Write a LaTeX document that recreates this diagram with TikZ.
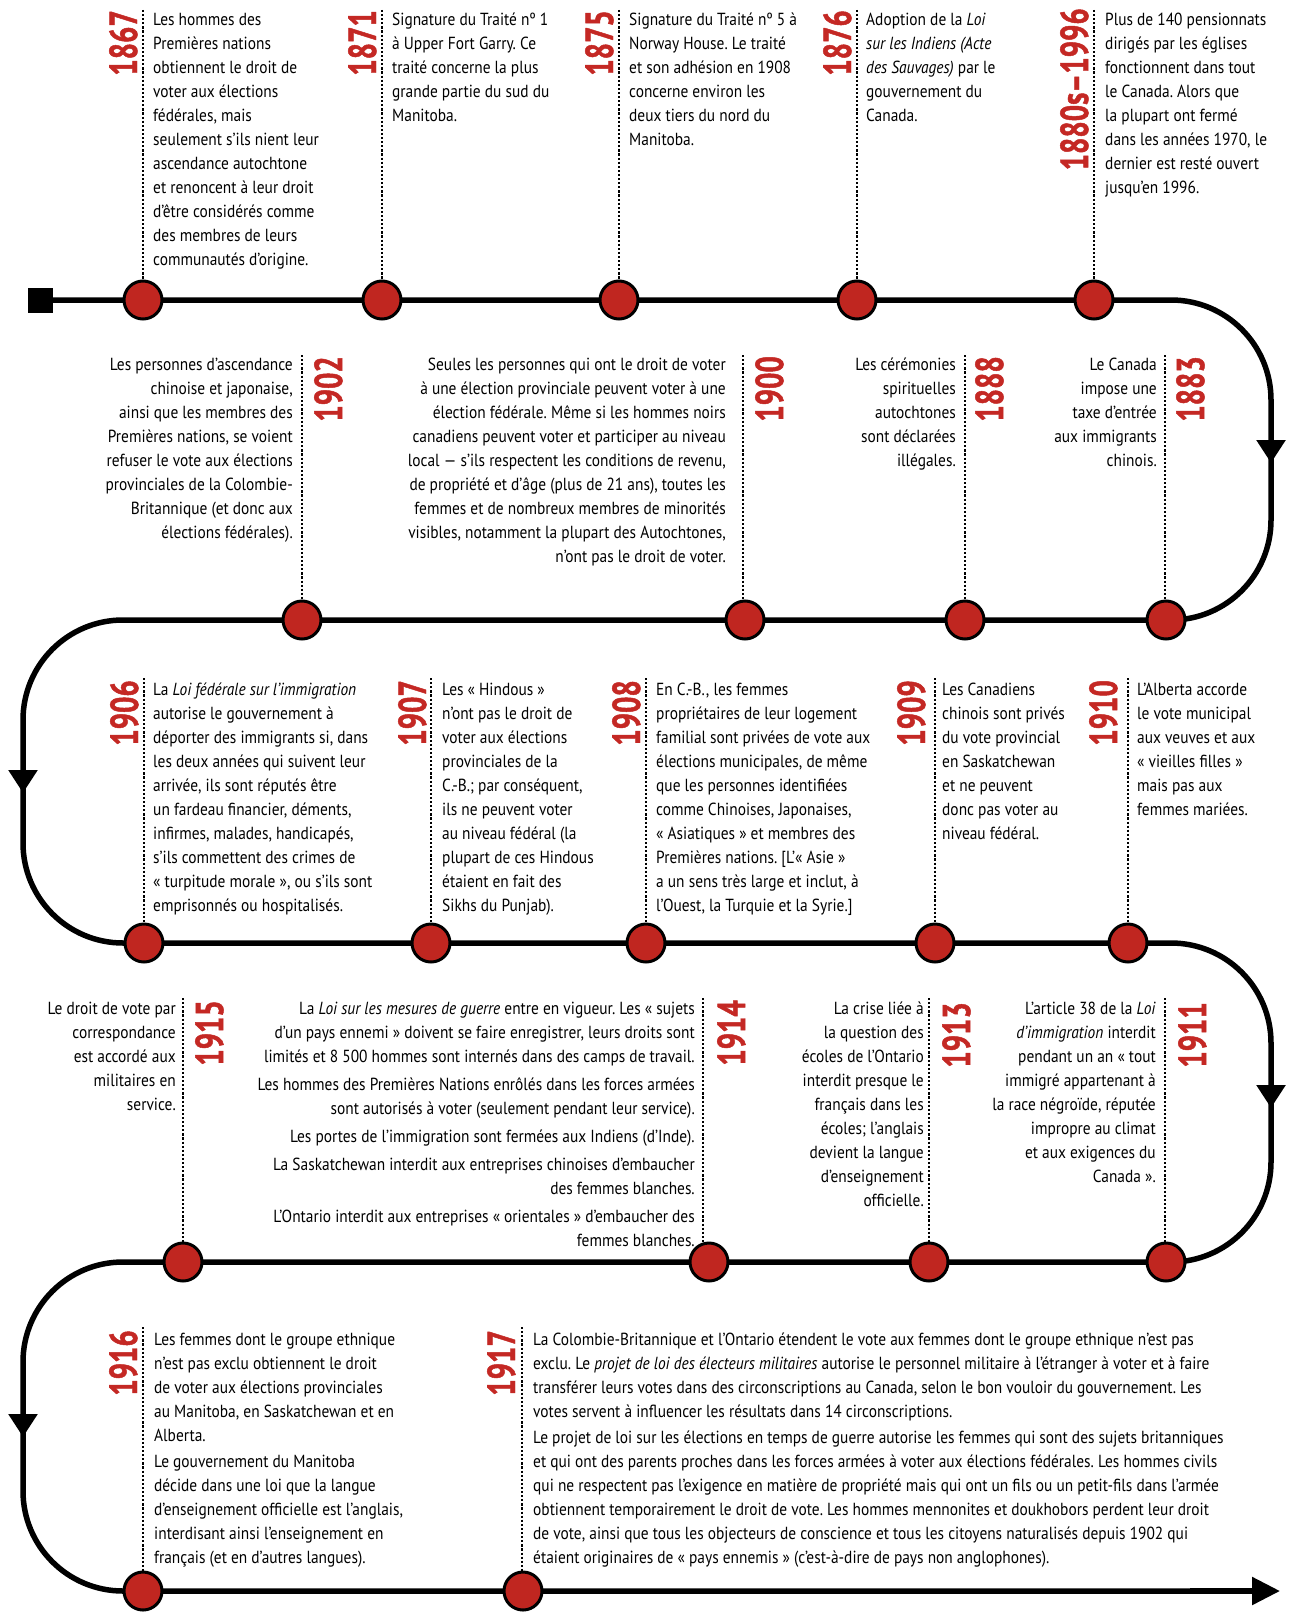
\documentclass[tikz,border=0pt]{standalone}
\usepackage{fontspec}
\setmainfont{PT Sans}[FakeStretch=0.88]
\newfontfamily\yearfont{PT Sans}[FakeStretch=0.74,FakeBold=1.2]
\usetikzlibrary{arrows.meta}
\definecolor{tlred}{RGB}{192,38,32}
\definecolor{yrred}{RGB}{196,40,36}
\frenchspacing
\tikzset{
  mainline/.style={line width=5.5pt, black},
  dotline/.style={line width=2.2pt, dash pattern=on 2.2pt off 1.9pt},
  ev/.style={circle, draw=black, line width=3pt, fill=tlred, minimum size=38pt, inner sep=0pt},
  txt/.style={inner sep=0pt, font=\frenchspacing\fontsize{17.5}{24}\selectfont, execute at begin node=\strut},
  txtL/.style={txt, anchor=north west, align=left},
  txtR/.style={txt, anchor=north east, align=right},
  yr/.style={inner sep=0pt, rotate=90, text=yrred, font=\yearfont\bfseries\fontsize{39}{39}\selectfont},
  yrL/.style={yr, anchor=base east},
  yrR/.style={yr, anchor=north east},
  tip/.style={line width=5.5pt, -{Triangle[length=23pt,width=28pt]}}
}
\begin{document}
\begin{tikzpicture}[x=1pt,y=-1pt]
\fill[white] (0,0) rectangle (1288,1613);
\useasboundingbox (0,0) rectangle (1288,1613);

% main line
\node[fill=black, minimum size=25pt, inner sep=0pt] (start) at (40,300) {};
\coordinate (r1) at (1271,300);
\coordinate (r2) at (1271,620);
\coordinate (l2) at (23,620);
\coordinate (l3) at (23,943);
\coordinate (r3) at (1271,943);
\coordinate (r4) at (1271,1262);
\coordinate (l4) at (23,1262);
\coordinate (l5) at (23,1591);
\coordinate (endp) at (1280,1591);
\draw[mainline, rounded corners=100pt] (start.center) -- (r1) -- (r2) -- (l2) -- (l3) -- (r3) -- (r4) -- (l4) -- (l5) -- (1200,1591);
\draw[mainline, -{Triangle[length=28pt,width=27pt]}] (1190,1591) -- (endp);
\draw[tip] (1271,440) -- (1271,463);
\draw[tip] (23,770) -- (23,793);
\draw[tip] (1271,1085) -- (1271,1108);
\draw[tip] (23,1414) -- (23,1437);

% dotted line tops
\coordinate (d1867) at (143,10);
\coordinate (d1871) at (382,10);
\coordinate (d1875) at (619,10);
\coordinate (d1876) at (857,10);
\coordinate (d1880) at (1094,10);
\coordinate (d1902) at (302,355);
\coordinate (d1900) at (743,355);
\coordinate (d1888) at (965,355);
\coordinate (d1883) at (1165,355);
\coordinate (d1906) at (144,678);
\coordinate (d1907) at (431,678);
\coordinate (d1908) at (646,678);
\coordinate (d1909) at (935,678);
\coordinate (d1910) at (1128,678);
\coordinate (d1915) at (183,998);
\coordinate (d1914) at (703,998);
\coordinate (d1913) at (929,998);
\coordinate (d1911) at (1165,998);
\coordinate (d1916) at (143,1327);
\coordinate (d1917) at (522,1327);

% event circles
\node[ev] (c1867) at (143,300) {};
\node[ev] (c1871) at (382,300) {};
\node[ev] (c1875) at (619,300) {};
\node[ev] (c1876) at (857,300) {};
\node[ev] (c1880) at (1094,300) {};
\node[ev] (c1902) at (302,620) {};
\node[ev] (c1900) at (745,620) {};
\node[ev] (c1888) at (965,620) {};
\node[ev] (c1883) at (1166,620) {};
\node[ev] (c1906) at (144,943) {};
\node[ev] (c1907) at (431,943) {};
\node[ev] (c1908) at (646,943) {};
\node[ev] (c1909) at (935,943) {};
\node[ev] (c1910) at (1128,943) {};
\node[ev] (c1915) at (183,1262) {};
\node[ev] (c1914) at (709,1262) {};
\node[ev] (c1913) at (929,1262) {};
\node[ev] (c1911) at (1166,1262) {};
\node[ev] (c1916) at (143,1591) {};
\node[ev] (c1917) at (523,1591) {};

\foreach \n in {1867,1871,1875,1876,1880,1902,1900,1888,1883,1906,1907,1908,1909,1910,1915,1914,1913,1911,1916,1917}{
  \draw[dotline] (d\n) -- (d\n |- c\n.north);
}

% years
\node[yrL] (y1867) at (137,10) {1867};
\node[yrL] (y1871) at (376,10) {1871};
\node[yrL] (y1875) at (613,10) {1875};
\node[yrL] (y1876) at (851,10) {1876};
\node[yrL] (y1880) at (1088,8) {1880s–1996};
\node[yrR] (y1902) at (314,356) {1902};
\node[yrR] (y1900) at (755,356) {1900};
\node[yrR] (y1888) at (975,356) {1888};
\node[yrR] (y1883) at (1176,356) {1883};
\node[yrL] (y1906) at (138,680) {1906};
\node[yrL] (y1907) at (426,680) {1907};
\node[yrL] (y1908) at (640,680) {1908};
\node[yrL] (y1909) at (925,680) {1909};
\node[yrL] (y1910) at (1117,680) {1910};
\node[yrR] (y1915) at (195,1000) {1915};
\node[yrR] (y1914) at (717,1000) {1914};
\node[yrR] (y1913) at (942,1002) {1913};
\node[yrR] (y1911) at (1178,1002) {1911};
\node[yrL] (y1916) at (137,1330) {1916};
\node[yrL] (y1917) at (515,1330) {1917};

% texts row 1
\node[txtL] (t1867) at (153,13) {Les hommes des\\Premières nations\\obtiennent le droit de\\voter aux élections\\fédérales, mais\\seulement s’ils nient leur\\ascendance autochtone\\et renoncent à leur droit\\d’être considérés comme\\des membres de leurs\\communautés d’origine.};
\node[txtL] (t1871) at (392,13) {Signature du Traité nº 1\\à Upper Fort Garry. Ce\\traité concerne la plus\\grande partie du sud du\\Manitoba.};
\node[txtL] (t1875) at (629,13) {Signature du Traité nº 5 à\\Norway House. Le traité\\et son adhésion en 1908\\concerne environ les\\deux tiers du nord du\\Manitoba.};
\node[txtL] (t1876) at (866,13) {Adoption de la \textit{Loi}\\\textit{sur les Indiens (Acte}\\\textit{des Sauvages)} par le\\gouvernement du\\Canada.};
\node[txtL] (t1880) at (1105,13) {Plus de 140 pensionnats\\dirigés par les églises\\fonctionnent dans tout\\le Canada. Alors que\\la plupart ont fermé\\dans les années 1970, le\\dernier est resté ouvert\\jusqu’en 1996.};

% texts row 2
\node[txtR] (t1902) at (293,358) {Les personnes d’ascendance\\chinoise et japonaise,\\ainsi que les membres des\\Premières nations, se voient\\refuser le vote aux élections\\provinciales de la Colombie-\\Britannique (et donc aux\\élections fédérales).};
\node[txtR] (t1900) at (726,358) {Seules les personnes qui ont le droit de voter\\à une élection provinciale peuvent voter à une\\élection fédérale. Même si les hommes noirs\\canadiens peuvent voter et participer au niveau\\local — s’ils respectent les conditions de revenu,\\de propriété et d’âge (plus de 21 ans), toutes les\\femmes et de nombreux membres de minorités\\visibles, notamment la plupart des Autochtones,\\n’ont pas le droit de voter.};
\node[txtR] (t1888) at (956,358) {Les cérémonies\\spirituelles\\autochtones\\sont déclarées\\illégales.};
\node[txtR] (t1883) at (1157,358) {Le Canada\\impose une\\taxe d’entrée\\aux immigrants\\chinois.};

% texts row 3
\node[txtL] (t1906) at (153,683) {La \textit{Loi fédérale sur l’immigration}\\autorise le gouvernement à\\déporter des immigrants si, dans\\les deux années qui suivent leur\\arrivée, ils sont réputés être\\un fardeau financier, déments,\\infirmes, malades, handicapés,\\s’ils commettent des crimes de\\« turpitude morale », ou s’ils sont\\emprisonnés ou hospitalisés.};
\node[txtL] (t1907) at (442,683) {Les « Hindous »\\n’ont pas le droit de\\voter aux élections\\provinciales de la\\C.-B.; par conséquent,\\ils ne peuvent voter\\au niveau fédéral (la\\plupart de ces Hindous\\étaient en fait des\\Sikhs du Punjab).};
\node[txtL] (t1908) at (656,683) {En C.-B., les femmes\\propriétaires de leur logement\\familial sont privées de vote aux\\élections municipales, de même\\que les personnes identifiées\\comme Chinoises, Japonaises,\\« Asiatiques » et membres des\\Premières nations. [L’« Asie »\\a un sens très large et inclut, à\\l’Ouest, la Turquie et la Syrie.]};
\node[txtL] (t1909) at (942,683) {Les Canadiens\\chinois sont privés\\du vote provincial\\en Saskatchewan\\et ne peuvent\\donc pas voter au\\niveau fédéral.};
\node[txtL] (t1910) at (1137,683) {L’Alberta accorde\\le vote municipal\\aux veuves et aux\\« vieilles filles »\\mais pas aux\\femmes mariées.};

% texts row 4
\node[txtR] (t1915) at (176,1002) {Le droit de vote par\\correspondance\\est accordé aux\\militaires en\\service.};
\node[txtR] (t1914) at (695,1002) {La \textit{Loi sur les mesures de guerre} entre en vigueur. Les « sujets\\d’un pays ennemi » doivent se faire enregistrer, leurs droits sont\\limités et 8 500 hommes sont internés dans des camps de travail.\\[4pt]Les hommes des Premières Nations enrôlés dans les forces armées\\sont autorisés à voter (seulement pendant leur service).\\[4pt]Les portes de l’immigration sont fermées aux Indiens (d’Inde).\\[4pt]La Saskatchewan interdit aux entreprises chinoises d’embaucher\\des femmes blanches.\\[4pt]L’Ontario interdit aux entreprises « orientales » d’embaucher des\\femmes blanches.};
\node[txtR] (t1913) at (924,1002) {La crise liée à\\la question des\\écoles de l’Ontario\\interdit presque le\\français dans les\\écoles; l’anglais\\devient la langue\\d’enseignement\\officielle.};
\node[txtR] (t1911) at (1156,1002) {L’article 38 de la \textit{Loi}\\\textit{d’immigration} interdit\\pendant un an « tout\\immigré appartenant à\\la race négroïde, réputée\\impropre au climat\\et aux exigences du\\Canada ».};

% texts row 5
\node[txtL] (t1916) at (154,1333) {Les femmes dont le groupe ethnique\\n’est pas exclu obtiennent le droit\\de voter aux élections provinciales\\au Manitoba, en Saskatchewan et en\\Alberta.\\[2pt]Le gouvernement du Manitoba\\décide dans une loi que la langue\\d’enseignement officielle est l’anglais,\\interdisant ainsi l’enseignement en\\français (et en d’autres langues).};
\node[txtL] (t1917) at (533,1333) {La Colombie-Britannique et l’Ontario étendent le vote aux femmes dont le groupe ethnique n’est pas\\exclu. Le \textit{projet de loi des électeurs militaires} autorise le personnel militaire à l’étranger à voter et à faire\\transférer leurs votes dans des circonscriptions au Canada, selon le bon vouloir du gouvernement. Les\\votes servent à influencer les résultats dans 14 circonscriptions.\\[2pt]Le projet de loi sur les élections en temps de guerre autorise les femmes qui sont des sujets britanniques\\et qui ont des parents proches dans les forces armées à voter aux élections fédérales. Les hommes civils\\qui ne respectent pas l’exigence en matière de propriété mais qui ont un fils ou un petit-fils dans l’armée\\obtiennent temporairement le droit de vote. Les hommes mennonites et doukhobors perdent leur droit\\de vote, ainsi que tous les objecteurs de conscience et tous les citoyens naturalisés depuis 1902 qui\\étaient originaires de « pays ennemis » (c’est-à-dire de pays non anglophones).};
\end{tikzpicture}
\end{document}
